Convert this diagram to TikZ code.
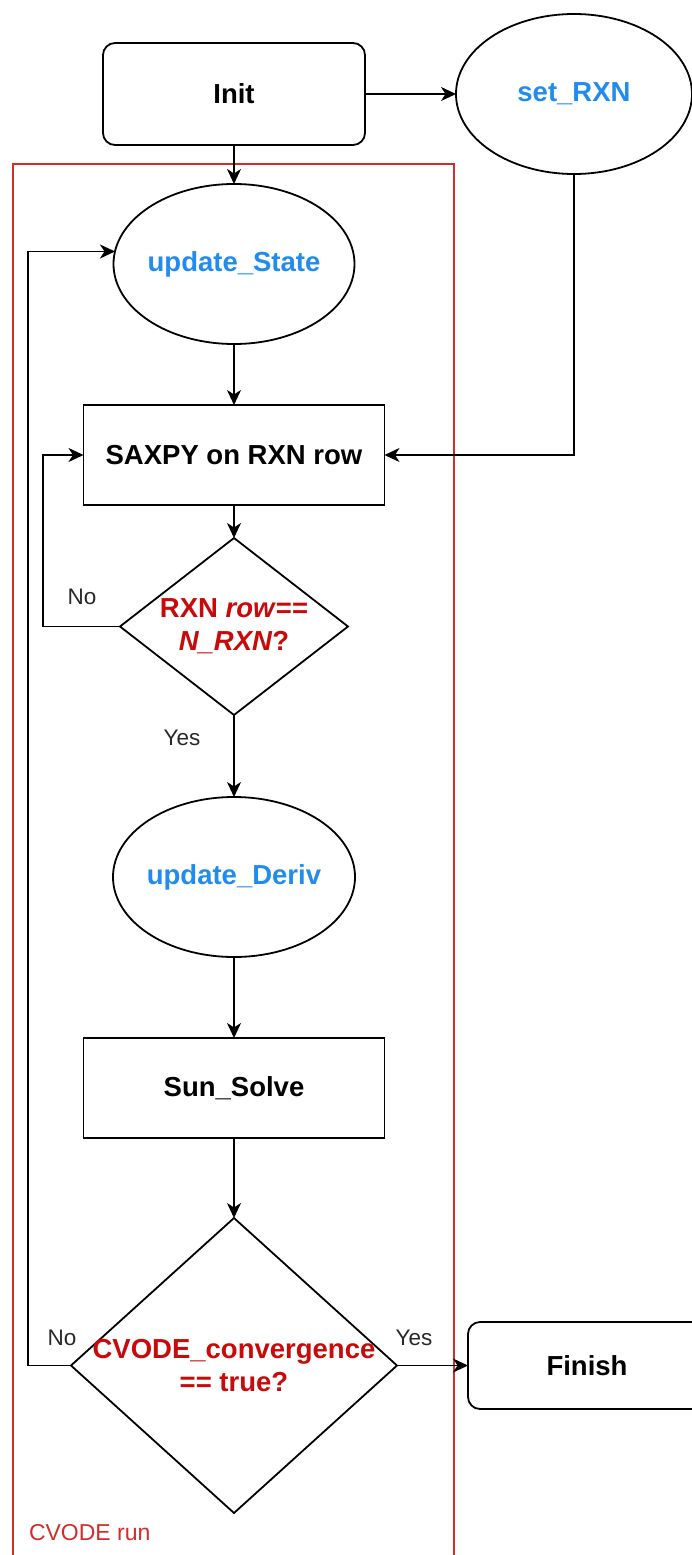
\documentclass[tikz,border=0pt]{standalone}
\usepackage{fontspec}
\setmainfont{Liberation Sans}
\usetikzlibrary{shapes.geometric,arrows.meta}
\definecolor{procblue}{RGB}{33,140,235}
\definecolor{testred}{RGB}{200,10,10}
\definecolor{framered}{RGB}{210,45,45}
\definecolor{lblgray}{RGB}{40,40,40}

\begin{document}
\begin{tikzpicture}[x=1pt,y=-1pt,
  every node/.style={inner sep=0pt, outer sep=0pt},
  bigtxt/.style={font=\fontsize{27.5}{33}\selectfont\bfseries, align=center},
  smalltxt/.style={font=\fontsize{22.5}{27}\selectfont, text=lblgray},
  rbox/.style={draw, line width=1.8pt, rounded corners=12pt, bigtxt},
  sbox/.style={draw, line width=1.8pt, bigtxt, minimum width=301pt, minimum height=100pt},
  oval/.style={draw, ellipse, line width=1.8pt},
  dec/.style={draw, diamond, line width=1.8pt},
  ovaltxt/.style={bigtxt, text=procblue},
  dectxt/.style={bigtxt, text=testred},
  frame/.style={draw=framered, line width=1.3pt},
  arr/.style={line width=1.8pt, -{Stealth[length=15pt,width=14pt,inset=4.5pt]}}]

% page and background
\useasboundingbox (0,0) rectangle (691,1555);
\fill[white] (0,0) rectangle (691,1555);

% solver loop container
\node[frame, anchor=north west, minimum width=441pt, minimum height=1420pt] (run) at (13,164) {};
\node[smalltxt, text=framered, font=\fontsize{23}{27}\selectfont, anchor=west] (runlbl) at (29,1533) {CVODE run};

% nodes
\node[rbox, minimum width=262pt, minimum height=102pt] (init) at (234,94) {Init};
\node[oval, minimum width=236pt, minimum height=160pt,
      label={[ovaltxt]center:set\_RXN}] (sr) at (574,94) {};
\node[oval, minimum width=241pt, minimum height=160pt,
      label={[ovaltxt]center:update\_State}] (us) at (234,264) {};
\node[sbox] (sx) at (234,455) {SAXPY on RXN row};
\node[dec, minimum width=228pt, minimum height=177pt] (d1) at (234,626.5) {};
\node[dectxt] (d1t) at (234,626.5) {RXN \textit{row}==\\\textit{N\_RXN}?};
\node[oval, minimum width=242pt, minimum height=160pt,
      label={[ovaltxt]center:update\_Deriv}] (ud) at (234,877) {};
\node[sbox] (ss) at (234,1088) {Sun\_Solve};
\node[dec, minimum width=326pt, minimum height=295pt] (d2) at (234,1365.5) {};
\node[dectxt] (d2t) at (234,1365.5) {CVODE\_convergence\\== true?};
\node[rbox, minimum width=238pt, minimum height=87pt] (fin) at (587,1365.5) {Finish};

% connectors
\draw[arr] (init) -- (sr);
\draw[arr] (init) -- (us);
\draw[arr] (us) -- (sx);
\draw[arr] (sr.south) |- (sx.east);
\draw[arr] (sx) -- (d1);
\draw[arr] (d1.west) -- ++(-77,0) |- (sx.west);
\draw[arr] (d1) -- (ud);
\draw[arr] (ud) -- (ss);
\draw[arr] (ss) -- (d2);
\draw[arr] (d2) -- (fin);
\draw[arr] (d2.west) -- ++(-43,0) |- (us.174.7);

% branch labels
\node[smalltxt] (no1) at (82,597) {No};
\node[smalltxt] (yes1) at (182,738) {Yes};
\node[smalltxt] (no2) at (62,1338) {No};
\node[smalltxt] (yes2) at (414,1338) {Yes};
\end{tikzpicture}
\end{document}
